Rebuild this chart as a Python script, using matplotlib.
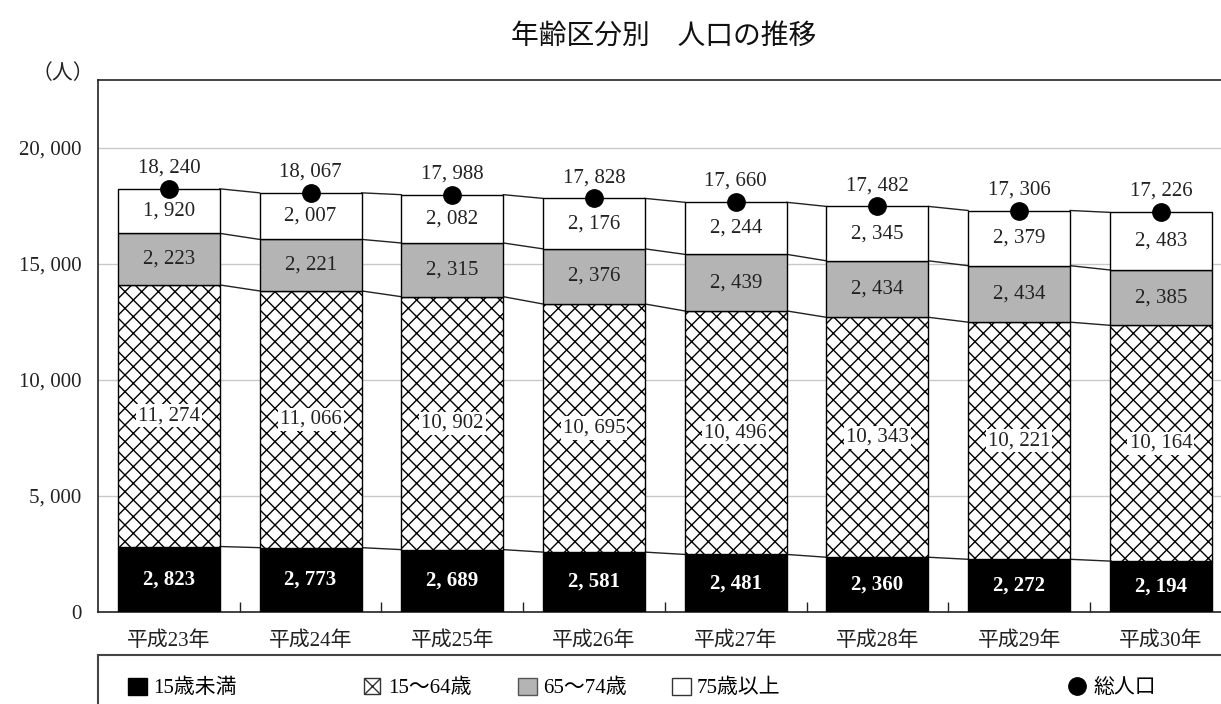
import matplotlib
matplotlib.use("Agg")
import matplotlib.pyplot as plt
import numpy as np
from matplotlib.patches import Rectangle, Patch
from matplotlib.lines import Line2D
from matplotlib.legend_handler import HandlerTuple
from matplotlib.ticker import FuncFormatter, FixedLocator

plt.rcParams['hatch.linewidth'] = 1.0
plt.rcParams['hatch.color'] = '#222222'

categories = ["平成23年", "平成24年", "平成25年", "平成26年", "平成27年", "平成28年", "平成29年", "平成30年"]
under15 = [2823, 2773, 2689, 2581, 2481, 2360, 2272, 2194]
age15_64 = [11274, 11066, 10902, 10695, 10496, 10343, 10221, 10164]
age65_74 = [2223, 2221, 2315, 2376, 2439, 2434, 2434, 2385]
age75plus = [1920, 2007, 2082, 2176, 2244, 2345, 2379, 2483]
total = [18240, 18067, 17988, 17828, 17660, 17482, 17306, 17226]
series_names = ["15歳未満", "15〜64歳", "65〜74歳", "75歳以上", "総人口"]
yticks = [0, 5000, 10000, 15000, 20000]

SERIF = ['Liberation Serif', 'Noto Sans CJK JP']
SANS = ['Noto Sans CJK JP', 'DejaVu Sans']

def fmt(v):
    return f"{int(v):,}".replace(",", ", ")

W, H = 1221, 704
fig = plt.figure(figsize=(W / 100, H / 100), dpi=100)
ax = fig.add_axes([98 / W, (H - 612) / H, 1133.7 / W, (612 - 80) / H])

x = np.arange(len(categories))
bw = 0.72
segs = [under15, age15_64, age65_74, age75plus]
styles = [
    dict(color='black', hatch=None),
    dict(color='white', hatch='xx'),
    dict(color='#b4b4b4', hatch=None),
    dict(color='white', hatch=None),
]
bottom = np.zeros(len(categories))
levels = []
for vals, st in zip(segs, styles):
    vals = np.array(vals, dtype=float)
    ax.bar(x, vals, bw, bottom=bottom, color=st['color'], edgecolor='black',
           linewidth=1.0, hatch=st['hatch'], zorder=3)
    bottom = bottom + vals
    levels.append(bottom.copy())

# connecting lines between bars
for lev in levels:
    for i in range(len(categories) - 1):
        ax.plot([x[i] + bw / 2, x[i + 1] - bw / 2], [lev[i], lev[i + 1]],
                color='#222222', lw=1.0, zorder=2)

# segment labels
bot = np.zeros(len(categories))
for k, vals in enumerate(segs):
    for i, v in enumerate(vals):
        yc = bot[i] + v / 2
        if k == 0:
            ax.text(x[i], yc, fmt(v), ha='center', va='center', color='white',
                    fontsize=15, fontweight='bold', family=SERIF, zorder=5)
        elif k == 1:
            ax.text(x[i], yc, fmt(v), ha='center', va='center', color='#222222',
                    fontsize=15, family=SERIF, zorder=5,
                    bbox=dict(facecolor='white', edgecolor='none', pad=1.5))
        else:
            ax.text(x[i], yc, fmt(v), ha='center', va='center', color='#222222',
                    fontsize=15, family=SERIF, zorder=5)
    bot = bot + np.array(vals)

# total dots and labels
ax.plot(x, total, 'o', color='black', markersize=12.5, zorder=6, linestyle='none')
for i, t in enumerate(total):
    ax.annotate(fmt(t), (x[i], t), xytext=(0, 15), textcoords='offset points',
                ha='center', va='center', fontsize=15, family=SERIF, color='#222222', zorder=6)

ax.set_xlim(-0.5, len(categories) - 0.5)
ax.set_ylim(0, 22931)
ax.set_yticks(yticks)
ax.yaxis.set_major_formatter(FuncFormatter(lambda v, p: fmt(v)))
ax.tick_params(axis='y', length=0, pad=12, labelsize=15, labelcolor='#222222')
for lab in ax.get_yticklabels():
    lab.set_family(SERIF)
ax.grid(axis='y', color='#c8c8c8', lw=1.0, zorder=0)
ax.set_axisbelow(True)

ax.set_xticks(x)
ax.set_xticklabels(categories)
ax.tick_params(axis='x', which='major', length=0, pad=14, labelsize=15, labelcolor='#222222')
for lab in ax.get_xticklabels():
    lab.set_family(SERIF)
ax.xaxis.set_minor_locator(FixedLocator(np.arange(0.5, len(categories) - 0.5, 1.0)))
ax.tick_params(axis='x', which='minor', direction='in', length=7, width=1.0, color='#222222')

for s in ['left', 'top', 'bottom']:
    ax.spines[s].set_color('#222222')
    ax.spines[s].set_linewidth(1.2)
ax.spines['right'].set_visible(False)

fig.text(664 / W, 1 - 36 / H, "年齢区分別　人口の推移", ha='center', va='center',
         fontsize=20, family=SANS, color='#111111')
fig.text(63 / W, 1 - 74 / H, "（人）", ha='center', va='center', fontsize=15,
         family=SERIF, color='#222222')

# legend box
fig.patches.append(Rectangle((98 / W, -0.05), 1.2, (H - 655) / H + 0.05,
                             transform=fig.transFigure, fill=False,
                             edgecolor='#444444', lw=1.5))

handles = [
    Patch(facecolor='black', edgecolor='black'),
    (Line2D([], [], marker='s', markerfacecolor='white', markeredgecolor='#333333',
            markersize=11.5, linestyle='none', markeredgewidth=1.0),
     Line2D([], [], marker='x', color='#333333', markersize=11.0, linestyle='none',
            markeredgewidth=1.0)),
    Patch(facecolor='#b4b4b4', edgecolor='#555555'),
    Patch(facecolor='white', edgecolor='#333333'),
    Line2D([], [], marker='o', color='black', markersize=12.5, linestyle='none'),
]
lx = [128, 363, 518, 672, 1068]
for h, name, px in zip(handles, series_names, lx):
    fig.legend([h], [name], loc='center left', bbox_to_anchor=(px / W, 1 - 688 / H),
               frameon=False, handlelength=0.9, handleheight=0.9,
               handletextpad=0.3, borderpad=0, borderaxespad=0,
               handler_map={tuple: HandlerTuple(ndivide=1, pad=0)},
               prop=dict(family=SERIF, size=15))

fig.savefig("out.png", dpi=100)
